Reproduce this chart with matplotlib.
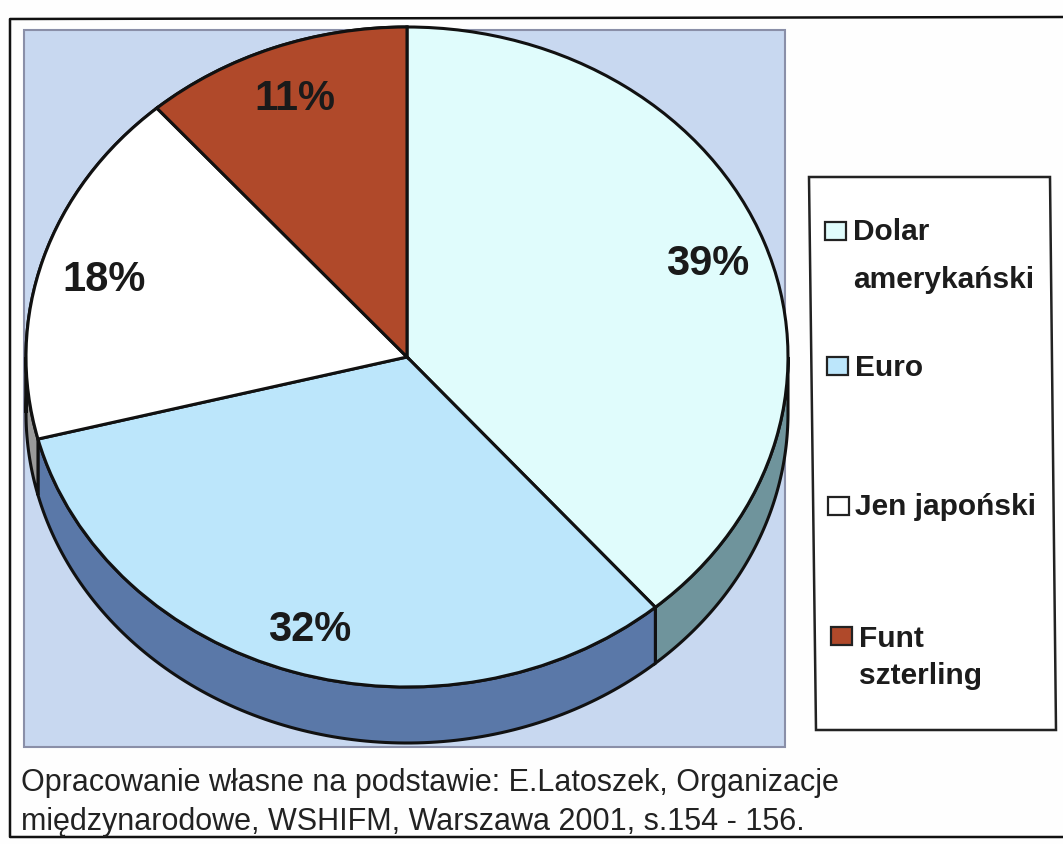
import numpy as np
import matplotlib
matplotlib.use("Agg")
import matplotlib.pyplot as plt
from matplotlib.patches import Rectangle, Polygon

categories = ["Dolar\namerykański", "Euro", "Jen japoński", "Funt\nszterling"]
values = [38.7, 32.3, 17.6, 11.4]
top_colors = ["#e0fcfc", "#bce6fb", "#ffffff", "#b0492a"]
side_colors = ["#6f949c", "#5a78a8", "#9a9a9a", "#6e2c18"]
source_lines = ["Opracowanie własne na podstawie: E.Latoszek, Organizacje",
                "międzynarodowe, WSHIFM, Warszawa 2001, s.154 - 156."]

W, H = 1063, 845
plt.rcParams["font.family"] = ["Liberation Sans", "DejaVu Sans"]
fig = plt.figure(figsize=(W/100, H/100), dpi=100, facecolor="#fefefe")

bg = fig.add_axes([0, 0, 1, 1])
bg.set_xlim(0, W); bg.set_ylim(H, 0); bg.axis("off")
# outer frame
bg.plot([1063, 10, 10, 1063], [18, 20, 838, 838], color="#111111", lw=1.8)
# plot area
bg.add_patch(Rectangle((24, 31), 761, 717, fc="#c8d8f0", ec="#8a8fa8", lw=1.5))
# legend box
bg.add_patch(Polygon([(809, 178), (1050, 178), (1056, 731), (816, 731)], closed=True,
                     fc="#ffffff", ec="#222222", lw=1.8))

# pie axes
cx, cy, rx, ry, depth = 407, 358, 381, 330, 56
ax = fig.add_axes([(cx-rx)/W, 1-(cy+ry)/H, 2*rx/W, 2*ry/H])
ax.set_zorder(2)
ax.patch.set_alpha(0)
edge = dict(edgecolor="#111111", linewidth=2.2)
wedges, _ = ax.pie(values, colors=top_colors, startangle=90, counterclock=False,
                   radius=1, center=(0, 0), wedgeprops=edge)
for w in wedges:
    w.set_zorder(5)
ax.set_aspect("auto")
ax.set_xlim(-1, 1); ax.set_ylim(-1, 1)
ax.set_frame_on(False)
d = depth / ry
fracs = np.cumsum([0] + values) / sum(values)
for i, c in enumerate(side_colors):
    a0 = 90 - 360*fracs[i]
    a1 = 90 - 360*fracs[i+1]
    # visible rim lies where the angle falls in the lower half of the ellipse
    lo, hi = max(a1, -180), min(a0, 0)
    segs = [(lo, hi)]
    if a1 < -180:
        segs.append((a1, min(a0, -180)))
    for l, h in segs:
        if h <= l:
            continue
        t = np.radians(np.linspace(l, h, 120))
        xs, ys = np.cos(t), np.sin(t)
        pts = np.r_[np.c_[xs, ys], np.c_[xs[::-1], ys[::-1]-d]]
        ax.add_patch(Polygon(pts, closed=True, fc=c, ec="#111111", lw=2.2,
                             zorder=3, clip_on=False))

# percentage labels
label_offsets = [(0.79, 0.285), (-0.255, -0.825), (-0.795, 0.235), (-0.295, 0.785)]
for v, (x, y) in zip(values, label_offsets):
    ax.text(x, y, f"{v:.0f}%", ha="center", va="center", fontsize=30, weight="bold",
            color="#1a1a1a", zorder=6)

# legend
swatches = [(835, 232), (837, 367), (838, 507), (841, 637)]
text_x = [853, 855, 855, 859]
text_y = [[232, 280], [368], [507], [639, 676]]
for k, name in enumerate(categories):
    sx, sy = swatches[k]
    bg.add_patch(Rectangle((sx-10.5, sy-9), 21, 18, fc=top_colors[k], ec="#222222", lw=1.6))
    for line, ty in zip(name.split("\n"), text_y[k]):
        bg.text(text_x[k], ty, line, ha="left", va="center", fontsize=21.5,
                weight="bold", color="#1c1c1c")

# source
for line, ty in zip(source_lines, [783, 822]):
    bg.text(21, ty, line, ha="left", va="center", fontsize=22, color="#222222")

fig.savefig("out.png", dpi=100, facecolor=fig.get_facecolor())
